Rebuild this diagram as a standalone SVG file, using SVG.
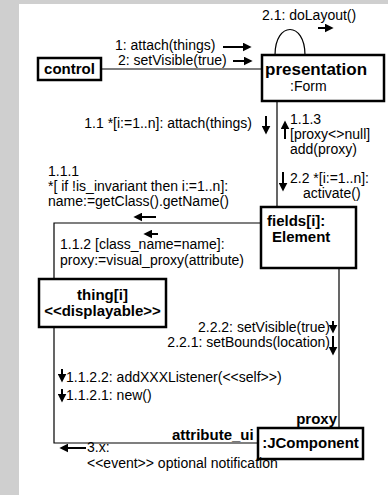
<svg xmlns="http://www.w3.org/2000/svg" width="388" height="495" viewBox="0 0 388 495">
<style>
.t{font-family:"Liberation Sans",Arial,sans-serif;font-size:14px;fill:#000}
.b{font-family:"Liberation Sans",Arial,sans-serif;font-size:15px;font-weight:bold;fill:#000}
.box{fill:#fff;stroke:#000;stroke-width:2.5}
.con{fill:none;stroke:#000;stroke-width:1.2}
.ar{fill:none;stroke:#000;stroke-width:2;marker-end:url(#ah)}
</style>
<defs>
<marker id="ah" viewBox="0 0 10 10" refX="6" refY="5" markerWidth="9" markerHeight="9" markerUnits="userSpaceOnUse" orient="auto"><path d="M0,0 L10,5 L0,10 z" fill="#000"/></marker>
</defs>
<rect x="0" y="0" width="388" height="495" fill="#cfcfcf"/>
<rect x="19" y="4" width="369" height="491" fill="#fff"/>
<g id="connectors">
<line class="con" x1="101" y1="69" x2="262" y2="69"/>
<path class="con" d="M275,55 C275,21 305,21 305,55"/>
<line class="con" x1="277" y1="101" x2="277" y2="207"/>
<polyline class="con" points="261,223 54,223 54,279"/>
<polyline class="con" points="54,327 54,443 258,443"/>
<line class="con" x1="339" y1="268" x2="339" y2="428"/>
</g>
<g id="arrows">
<line class="ar" x1="318" y1="28" x2="330" y2="28"/>
<line class="ar" x1="223" y1="47" x2="248" y2="47"/>
<line class="ar" x1="233" y1="61" x2="249" y2="61"/>
<line class="ar" x1="266" y1="116" x2="266" y2="131"/>
<line class="ar" x1="285" y1="139" x2="285" y2="124"/>
<line class="ar" x1="283" y1="172" x2="283" y2="188"/>
<line class="ar" x1="156" y1="217" x2="137" y2="217"/>
<line class="ar" x1="158" y1="234" x2="147" y2="234"/>
<line class="ar" x1="333" y1="321" x2="333" y2="330"/>
<line class="ar" x1="333" y1="336" x2="333" y2="352"/>
<line class="ar" x1="62" y1="369" x2="62" y2="379"/>
<line class="ar" x1="62" y1="389" x2="62" y2="399"/>
<line class="ar" x1="86" y1="448" x2="63" y2="448"/>
</g>
<g id="control">
<rect class="box" x="38" y="58" width="63" height="22"/>
<text class="b" x="69.5" y="74" text-anchor="middle">control</text>
</g>
<g id="presentation">
<rect class="box" x="262" y="55" width="122" height="46"/>
<text class="b" x="265" y="75" style="font-size:17px">presentation</text>
<text class="t" x="290" y="91">:Form</text>
</g>
<g id="fields">
<rect class="box" x="261" y="207" width="95" height="61"/>
<text class="b" x="267" y="226">fields[i]:</text>
<text class="b" x="272" y="242">Element</text>
</g>
<g id="thing">
<rect class="box" x="39" y="279" width="127" height="48"/>
<text class="b" x="102.5" y="300" text-anchor="middle">thing[i]</text>
<text class="b" x="102.5" y="316" text-anchor="middle">&lt;&lt;displayable&gt;&gt;</text>
</g>
<g id="jcomponent">
<rect class="box" x="258" y="428" width="105" height="31"/>
<text class="b" x="310.5" y="448" text-anchor="middle">:JComponent</text>
</g>
<g id="labels">
<text class="t" x="262" y="20">2.1: doLayout()</text>
<text class="t" x="115" y="50">1: attach(things)</text>
<text class="t" x="118" y="65">2: setVisible(true)</text>
<text class="t" x="252" y="128" text-anchor="end">1.1 *[i:=1..n]: attach(things)</text>
<text class="t" x="290" y="124">1.1.3</text>
<text class="t" x="290" y="139">[proxy&lt;&gt;null]</text>
<text class="t" x="290" y="154">add(proxy)</text>
<text class="t" x="290" y="183">2.2 *[i:=1..n]:</text>
<text class="t" x="303" y="198">activate()</text>
<text class="t" x="48" y="176">1.1.1</text>
<text class="t" x="48" y="191">*[ if !is_invariant then i:=1..n]:</text>
<text class="t" x="48" y="206">name:=getClass().getName()</text>
<text class="t" x="60" y="249">1.1.2 [class_name=name]:</text>
<text class="t" x="60" y="265">proxy:=visual_proxy(attribute)</text>
<text class="t" x="330" y="332" text-anchor="end">2.2.2: setVisible(true)</text>
<text class="t" x="330" y="347" text-anchor="end">2.2.1: setBounds(location)</text>
<text class="t" x="66" y="382">1.1.2.2: addXXXListener(&lt;&lt;self&gt;&gt;)</text>
<text class="t" x="66" y="400">1.1.2.1: new()</text>
<text class="b" x="337" y="424" text-anchor="end">proxy</text>
<text class="b" x="172" y="440">attribute_ui</text>
<text class="t" x="87" y="452">3.x:</text>
<text class="t" x="87" y="468">&lt;&lt;event&gt;&gt; optional notification</text>
</g>
</svg>
